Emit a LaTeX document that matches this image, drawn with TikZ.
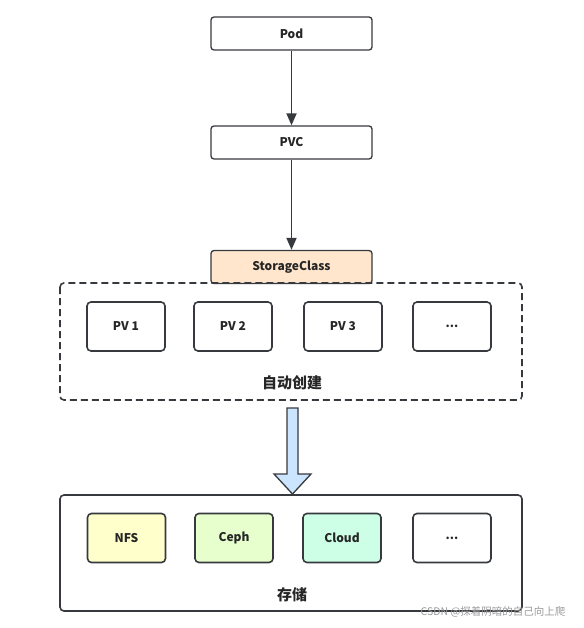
\documentclass[tikz,border=0pt]{standalone}
\usepackage{fontspec}
\setmainfont{Noto Sans CJK SC}
\usetikzlibrary{arrows.meta,shapes.arrows}
\definecolor{edge}{HTML}{36393D}
\definecolor{scfill}{HTML}{FFE6CC}
\definecolor{nfsfill}{HTML}{FFFFCC}
\definecolor{cephfill}{HTML}{E6FFCC}
\definecolor{cloudfill}{HTML}{CCFFE6}
\definecolor{arrfill}{HTML}{CCE5FF}
\tikzset{
  box/.style={draw=edge, line width=1.3pt, rounded corners=3pt, minimum width=161pt, minimum height=33pt, inner sep=0pt, font=\fontsize{12}{14}\selectfont\bfseries, text=black!85},
  pv/.style={draw=edge, line width=1.6pt, rounded corners=4pt, minimum width=78pt, minimum height=49pt, inner sep=0pt, font=\fontsize{12}{14}\selectfont\bfseries, text=black!85},
  group/.style={draw=edge, line width=1.6pt, rounded corners=4pt, inner sep=0pt},
  lbl/.style={font=\fontsize{15}{17}\selectfont\bfseries, text=black!85},
  conn/.style={draw=edge, line width=1.8pt, -{Triangle[length=12pt,width=10pt]}}
}
\begin{document}
\begin{tikzpicture}[x=1pt,y=-1pt]
\useasboundingbox (0,0) rectangle (583,628);
\node[box] (pod) at (291.5,33.5) {Pod};
\node[box] (pvc) at (291.5,142.5) {PVC};
\node[box, fill=scfill] (sc) at (291.5,267) {StorageClass};
\draw[group, dashed, dash pattern=on 7pt off 4pt] (60,283) rectangle (522,400);
\node[pv] (pv1) at (126,326.5) {PV 1};
\node[pv] (pv2) at (233,326.5) {PV 2};
\node[pv] (pv3) at (343,326.5) {PV 3};
\node[pv] (pvx) at (452,326.5) {...};
\node[lbl] (autolbl) at (292,383) {自动创建};
\draw[group] (60,495) rectangle (522,611);
\node[pv, fill=nfsfill] (nfs) at (126.5,538) {NFS};
\node[pv, fill=cephfill] (ceph) at (234,538) {Ceph};
\node[pv, fill=cloudfill] (cloud) at (342,538) {Cloud};
\node[pv] (stx) at (452,538) {...};
\node[lbl] (storelbl) at (292,595) {存储};
\draw[conn] (pod) -- (pvc);
\draw[conn] (pvc) -- (sc);
\draw[draw=edge, line width=1.3pt, fill=arrfill, line join=miter]
  (287,408) -- (298,408) -- (298,474) -- (311,474) -- (292.5,494) -- (274,474) -- (287,474) -- cycle;
\node[font=\fontsize{10.5}{12}\selectfont, text=black!40, anchor=east] (wm) at (569,612) {CSDN @探着阴暗的自己向上爬};
\end{tikzpicture}
\end{document}
